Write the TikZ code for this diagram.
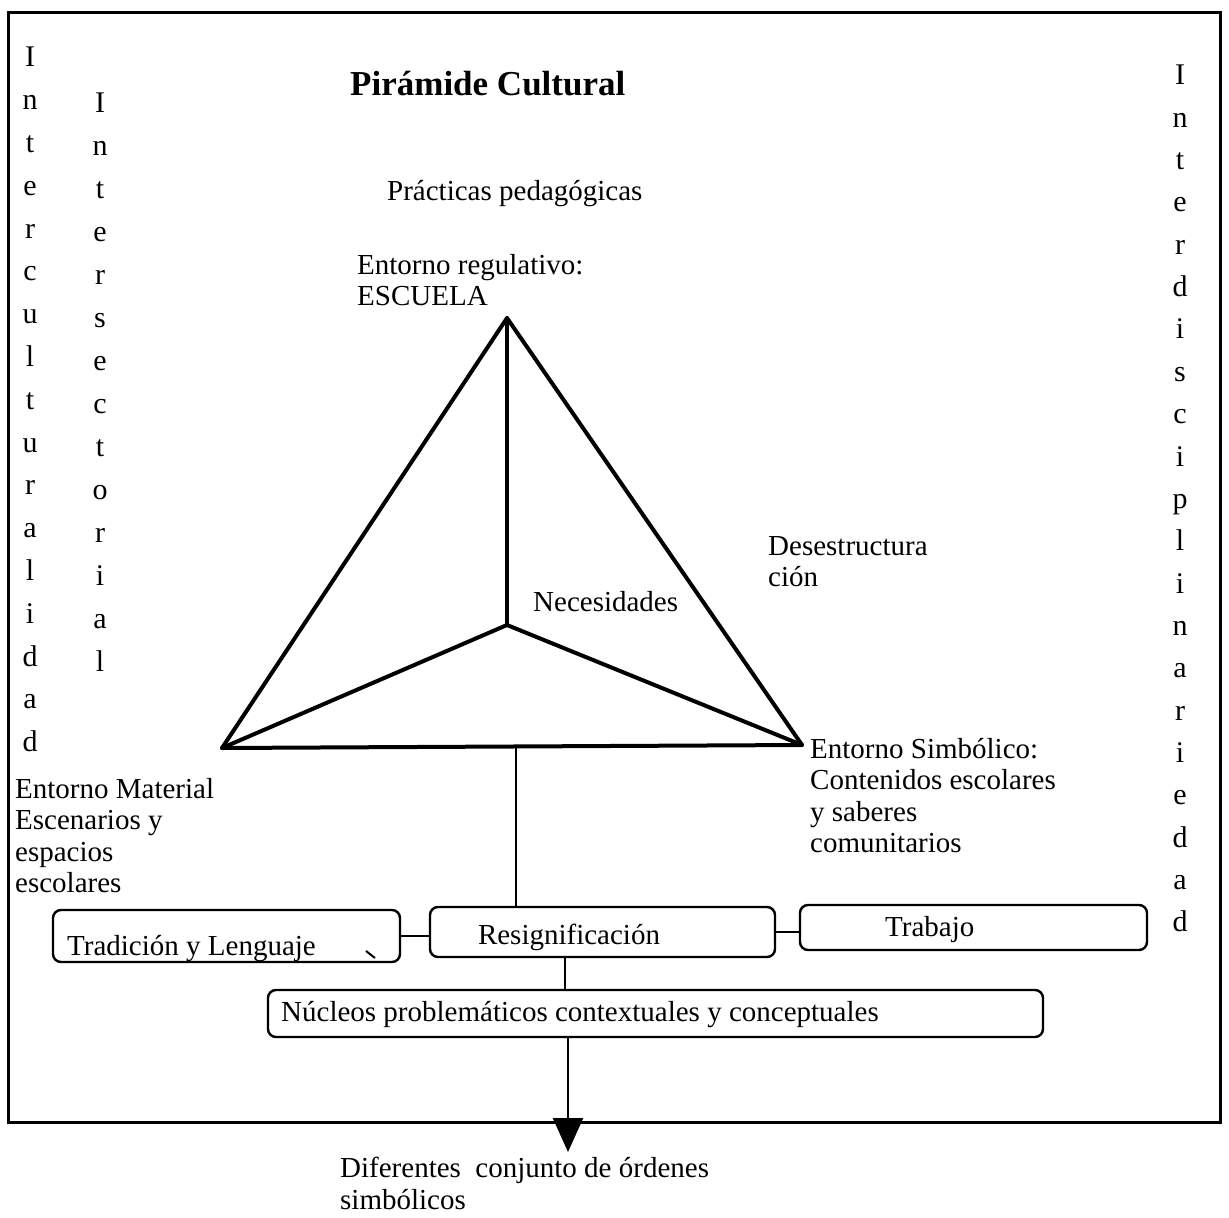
\documentclass[tikz,border=0pt]{standalone}
\usepackage{fontspec}
\setmainfont{Liberation Serif}
\usetikzlibrary{arrows.meta}
\begin{document}
\begin{tikzpicture}[x=1pt,y=-1pt,
  txt/.style={font=\fontsize{29}{31.5}\selectfont, inner sep=0pt, align=left},
  vert/.style={inner sep=0pt, align=center, anchor=north},
  boxs/.style={draw, line width=2.4pt, rounded corners=8pt, inner sep=0pt},
  tri/.style={line width=4pt, line cap=round, line join=round},
  conn/.style={line width=2.4pt}]
\useasboundingbox[fill=white] (0,0) rectangle (1229,1218);
% frame
\draw[line width=3pt] (8,12) rectangle (1220,1122);
% vertical words
\node[vert, font=\fontsize{30}{42.8}\selectfont] (interc) at (30,47)
 {I\\n\\t\\e\\r\\c\\u\\l\\t\\u\\r\\a\\l\\i\\d\\a\\d};
\node[vert, font=\fontsize{30}{43}\selectfont] (inters) at (100,93)
 {I\\n\\t\\e\\r\\s\\e\\c\\t\\o\\r\\i\\a\\l};
\node[vert, font=\fontsize{30}{42.35}\selectfont] (interd) at (1180,65)
 {I\\n\\t\\e\\r\\d\\i\\s\\c\\i\\p\\l\\i\\n\\a\\r\\i\\e\\d\\a\\d};
% title and labels
\node[inner sep=0pt, anchor=base west, font=\fontsize{35}{38}\selectfont\bfseries] (title) at (350,95) {Pirámide Cultural};
\node[txt, anchor=base west] (prac) at (387,200) {Prácticas pedagógicas};
\node[txt, anchor=north west] (ereg) at (357,254) {Entorno regulativo:\\ESCUELA};
\node[txt, anchor=north west] (dese) at (768,536) {Desestructura\\ción};
\node[txt, anchor=base west] (nece) at (533,611) {Necesidades};
\node[txt, anchor=north west] (esim) at (810,738) {Entorno Simbólico:\\Contenidos escolares\\y saberes\\comunitarios};
\node[txt, anchor=north west] (emat) at (15,778) {Entorno Material\\Escenarios y\\espacios\\escolares};
% triangle
\coordinate (A) at (507,318);
\coordinate (L) at (222,748);
\coordinate (R) at (802,745);
\coordinate (N) at (507,625);
\draw[tri] (A) -- (L) -- (R) -- cycle;
\draw[tri] (A) -- (N);
\draw[tri] (L) -- (N) -- (R);
\coordinate (bm) at (516,746.5);
% boxes
\node[boxs, minimum width=347pt, minimum height=52pt] (trad) at (226.5,936) {};
\node[boxs, minimum width=345pt, minimum height=50pt] (resig) at (602.5,932) {};
\node[boxs, minimum width=347pt, minimum height=45pt] (trab) at (973.5,927.5) {};
\node[boxs, minimum width=775pt, minimum height=47pt] (nuc) at (655.5,1013.5) {};
\node[txt, anchor=base west] (tradT) at (67,955) {Tradición y Lenguaje};
\node[txt, anchor=base] (resigT) at (569,944) {Resignificación};
\node[txt, anchor=base west] (trabT) at (885,936) {Trabajo};
\node[txt, anchor=base west] (nucT) at (281,1021) {Núcleos problemáticos contextuales y conceptuales};
\coordinate (mark) at (366,951);
\draw[line width=2pt] (mark) -- ++(9,7);
% connectors
\draw[conn] (bm) -- (bm |- resig.north);
\draw[conn] (trad.east) -- (trad.east -| resig.west);
\draw[conn] (resig.east) -- (resig.east -| trab.west);
\coordinate (r2n) at (565,0);
\draw[conn] (resig.south -| r2n) -- (nuc.north -| r2n);
\coordinate (out) at (568,1152);
\draw[conn, -{Triangle[length=34pt,width=30pt]}] (nuc.south -| out) -- (out);
\node[txt, anchor=north west] (dif) at (340,1157) {Diferentes~ conjunto de órdenes\\simbólicos};
\end{tikzpicture}
\end{document}
